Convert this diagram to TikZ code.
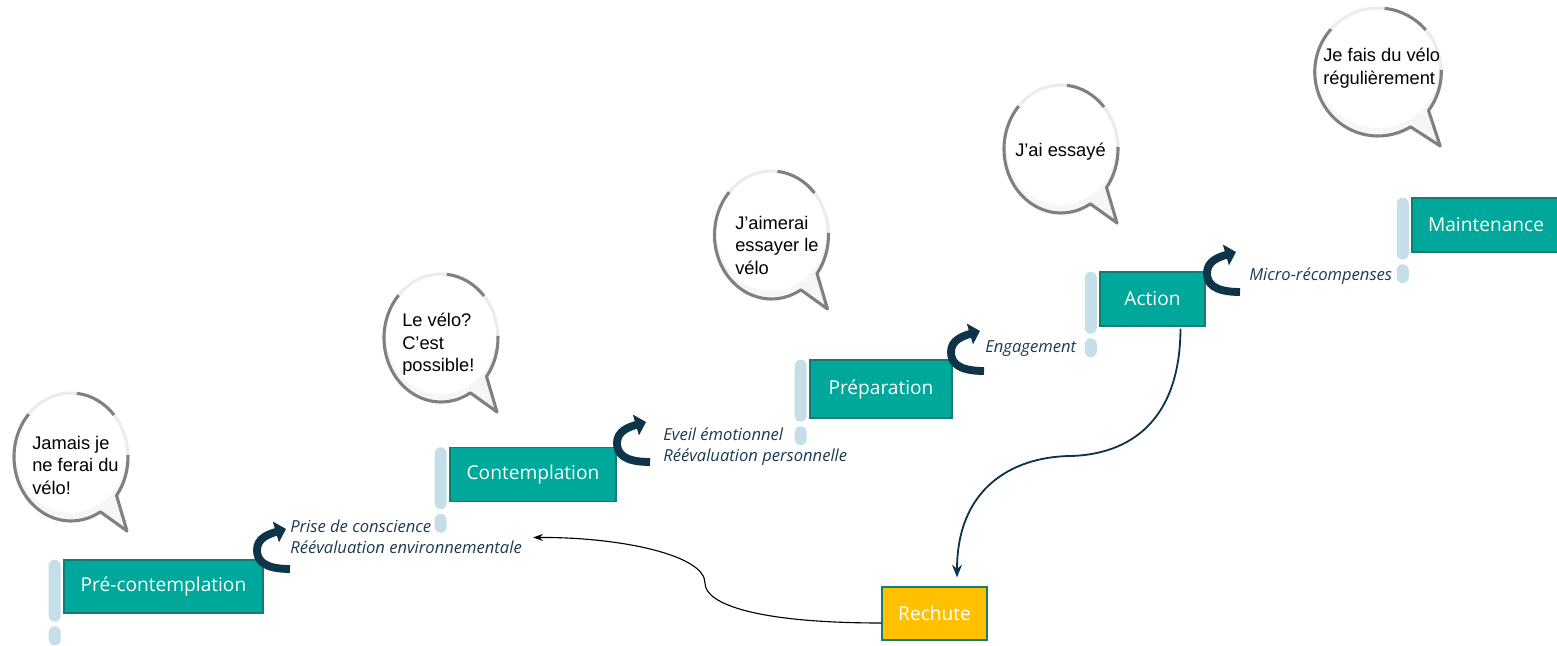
\documentclass[tikz,border=0pt]{standalone}
\usepackage{fontspec}
\setmainfont{Open Sans}
\newfontfamily\bubblefont{Liberation Sans}
\usetikzlibrary{arrows.meta,positioning,calc}
\definecolor{stageTeal}{RGB}{0,168,156}
\definecolor{stageEdge}{RGB}{22,124,114}
\definecolor{relapseYellow}{RGB}{255,192,0}
\definecolor{barBlue}{RGB}{197,223,233}
\definecolor{loopNavy}{RGB}{13,52,72}
\definecolor{cueNavy}{RGB}{30,58,80}
\definecolor{bubbleGrey}{RGB}{128,128,128}

\begin{document}
\begin{tikzpicture}[
        x=0.025cm, y=0.025cm,
        stage/.style={rectangle, draw=stageEdge, line width=0.8pt, fill=stageTeal, text=white, minimum height=1.35cm, font=\fontsize{13.6}{15}\selectfont},
        relapse/.style={stage, fill=relapseYellow},
        bar/.style={rectangle, rounded corners=0.15cm, fill=barBlue, inner sep=0pt, minimum width=0.3cm, minimum height=1.55cm},
        pill/.style={bar, minimum height=0.475cm},
        cue/.style={align=left, inner sep=0pt, text=cueNavy, font=\itshape\fontsize{11.8}{15}\selectfont},
        say/.style={align=left, inner sep=0pt, font=\bubblefont\fontsize{13}{16}\selectfont},
        bubbleline/.style={draw=bubbleGrey, line width=2.2pt},
        fallarrow/.style={-{Stealth[length=9pt,width=7pt]}, draw=loopNavy, line width=1.3pt},
        backarrow/.style={-{Stealth[length=7pt,width=5pt]}, draw=black, line width=0.8pt},
        turn/.pic={
            \draw[loopNavy, line width=5.6pt, -{Triangle[length=7.5pt,width=15pt]}]
                (37,-19) .. controls (10,-19) and (4,-10) .. (4,0)
                .. controls (4,12) and (16,16) .. (33,21);
        },
        bubble/.pic={
            \fill[gray!7] (-37:57 and 64) arc[start angle=-37, end angle=301, x radius=57, y radius=64] -- (56,-74) -- cycle;
            \fill[white] (0,4) ellipse[x radius=55, y radius=60];
            \draw[bubbleline, draw=gray!15] (2:57 and 64) arc[start angle=2, end angle=41, x radius=57, y radius=64];
            \draw[bubbleline, draw=gray!15] (84:57 and 64) arc[start angle=84, end angle=138, x radius=57, y radius=64];
            \draw[bubbleline] (41:57 and 64) arc[start angle=41, end angle=84, x radius=57, y radius=64];
            \draw[bubbleline, line join=round] (138:57 and 64) arc[start angle=138, end angle=301, x radius=57, y radius=64]
                -- (56,-74) -- (-37:57 and 64) arc[start angle=-37, end angle=2, x radius=57, y radius=64];
        }
    ]
        \useasboundingbox (0,0) rectangle (1557,645);

        % Stages
        \node[stage, minimum width=4.975cm, minimum height=1.325cm] (pre) at (163.5,58.5) {Pré-contemplation};
        \node[stage, minimum width=4.15cm] (con) at (533,170.5) {Contemplation};
        \node[stage, minimum width=3.55cm, minimum height=1.45cm] (prep) at (881,256) {Préparation};
        \node[stage, minimum width=2.625cm] (act) at (1152.5,346) {Action};
        \node[stage, minimum width=3.7cm] (mai) at (1486,420) {Maintenance};
        \node[relapse, minimum width=2.625cm, minimum height=1.325cm] (rech) at (934.5,31.5) {Rechute};

        % Side bars
        \node[bar, below left=0cm and 0.06cm of pre.north west] (prebar) {};
        \node[pill, below=0.1cm of prebar] (prepill) {};
        \node[bar, below left=0cm and 0.06cm of con.north west] (conbar) {};
        \node[pill, below=0.1cm of conbar] (conpill) {};
        \node[bar, below left=0cm and 0.06cm of prep.north west] (prepbar) {};
        \node[pill, below=0.1cm of prepbar] (preppill) {};
        \node[bar, below left=0cm and 0.06cm of act.north west] (actbar) {};
        \node[pill, below=0.1cm of actbar] (actpill) {};
        \node[bar, below left=0cm and 0.06cm of mai.north west] (maibar) {};
        \node[pill, below=0.1cm of maibar] (maipill) {};

        % Loops
        \pic at (253,95) {turn};
        \pic at (613,202) {turn};
        \pic at (947,293) {turn};
        \pic at (1203,372) {turn};

        % Processes
        \node[cue, anchor=west] (cue1) at (290,108.5) {Prise de conscience\\Réévaluation environnementale};
        \node[cue, anchor=west] (cue2) at (663,198) {Eveil émotionnel\\Réévaluation personnelle};
        \node[cue, anchor=west] (cue3) at (985,296) {Engagement};
        \node[cue, anchor=west] (cue4) at (1249,369) {Micro-récompenses};

        % Bubbles
        \pic at (71,188) {bubble};
        \pic at (441,307) {bubble};
        \pic at (771.5,410) {bubble};
        \pic at (1061,496) {bubble};
        \pic[xscale=1.11] at (1378,573) {bubble};
        \node[say, anchor=west] (say1) at (32,180) {Jamais je\\ne ferai du\\vélo!};
        \node[say, anchor=west] (say2) at (402,300.5) {Le vélo?\\C’est\\possible!};
        \node[say, anchor=west] (say3) at (735,400) {J’aimerai\\essayer le\\vélo};
        \node[say, anchor=west] (say4) at (1015,493) {J’ai essayé};
        \node[say, anchor=west] (say5) at (1323,577) {Je fais du vélo\\régulièrement};

        % Relapse
        \draw[fallarrow] ($(act.south)+(28,-2)$) .. controls (1180,215) and (1120,190) .. (1070,189)
            .. controls (1010,188) and (957,155) .. ($(rech.north)+(22.5,9)$);
        \draw[backarrow] ($(rech.west)+(0,-9.5)$) .. controls (760,22) and (705,40) .. (705,62)
            .. controls (705,90) and (620,108) .. ($(cue1.east)+(11,-1)$);

    \end{tikzpicture}
\end{document}
